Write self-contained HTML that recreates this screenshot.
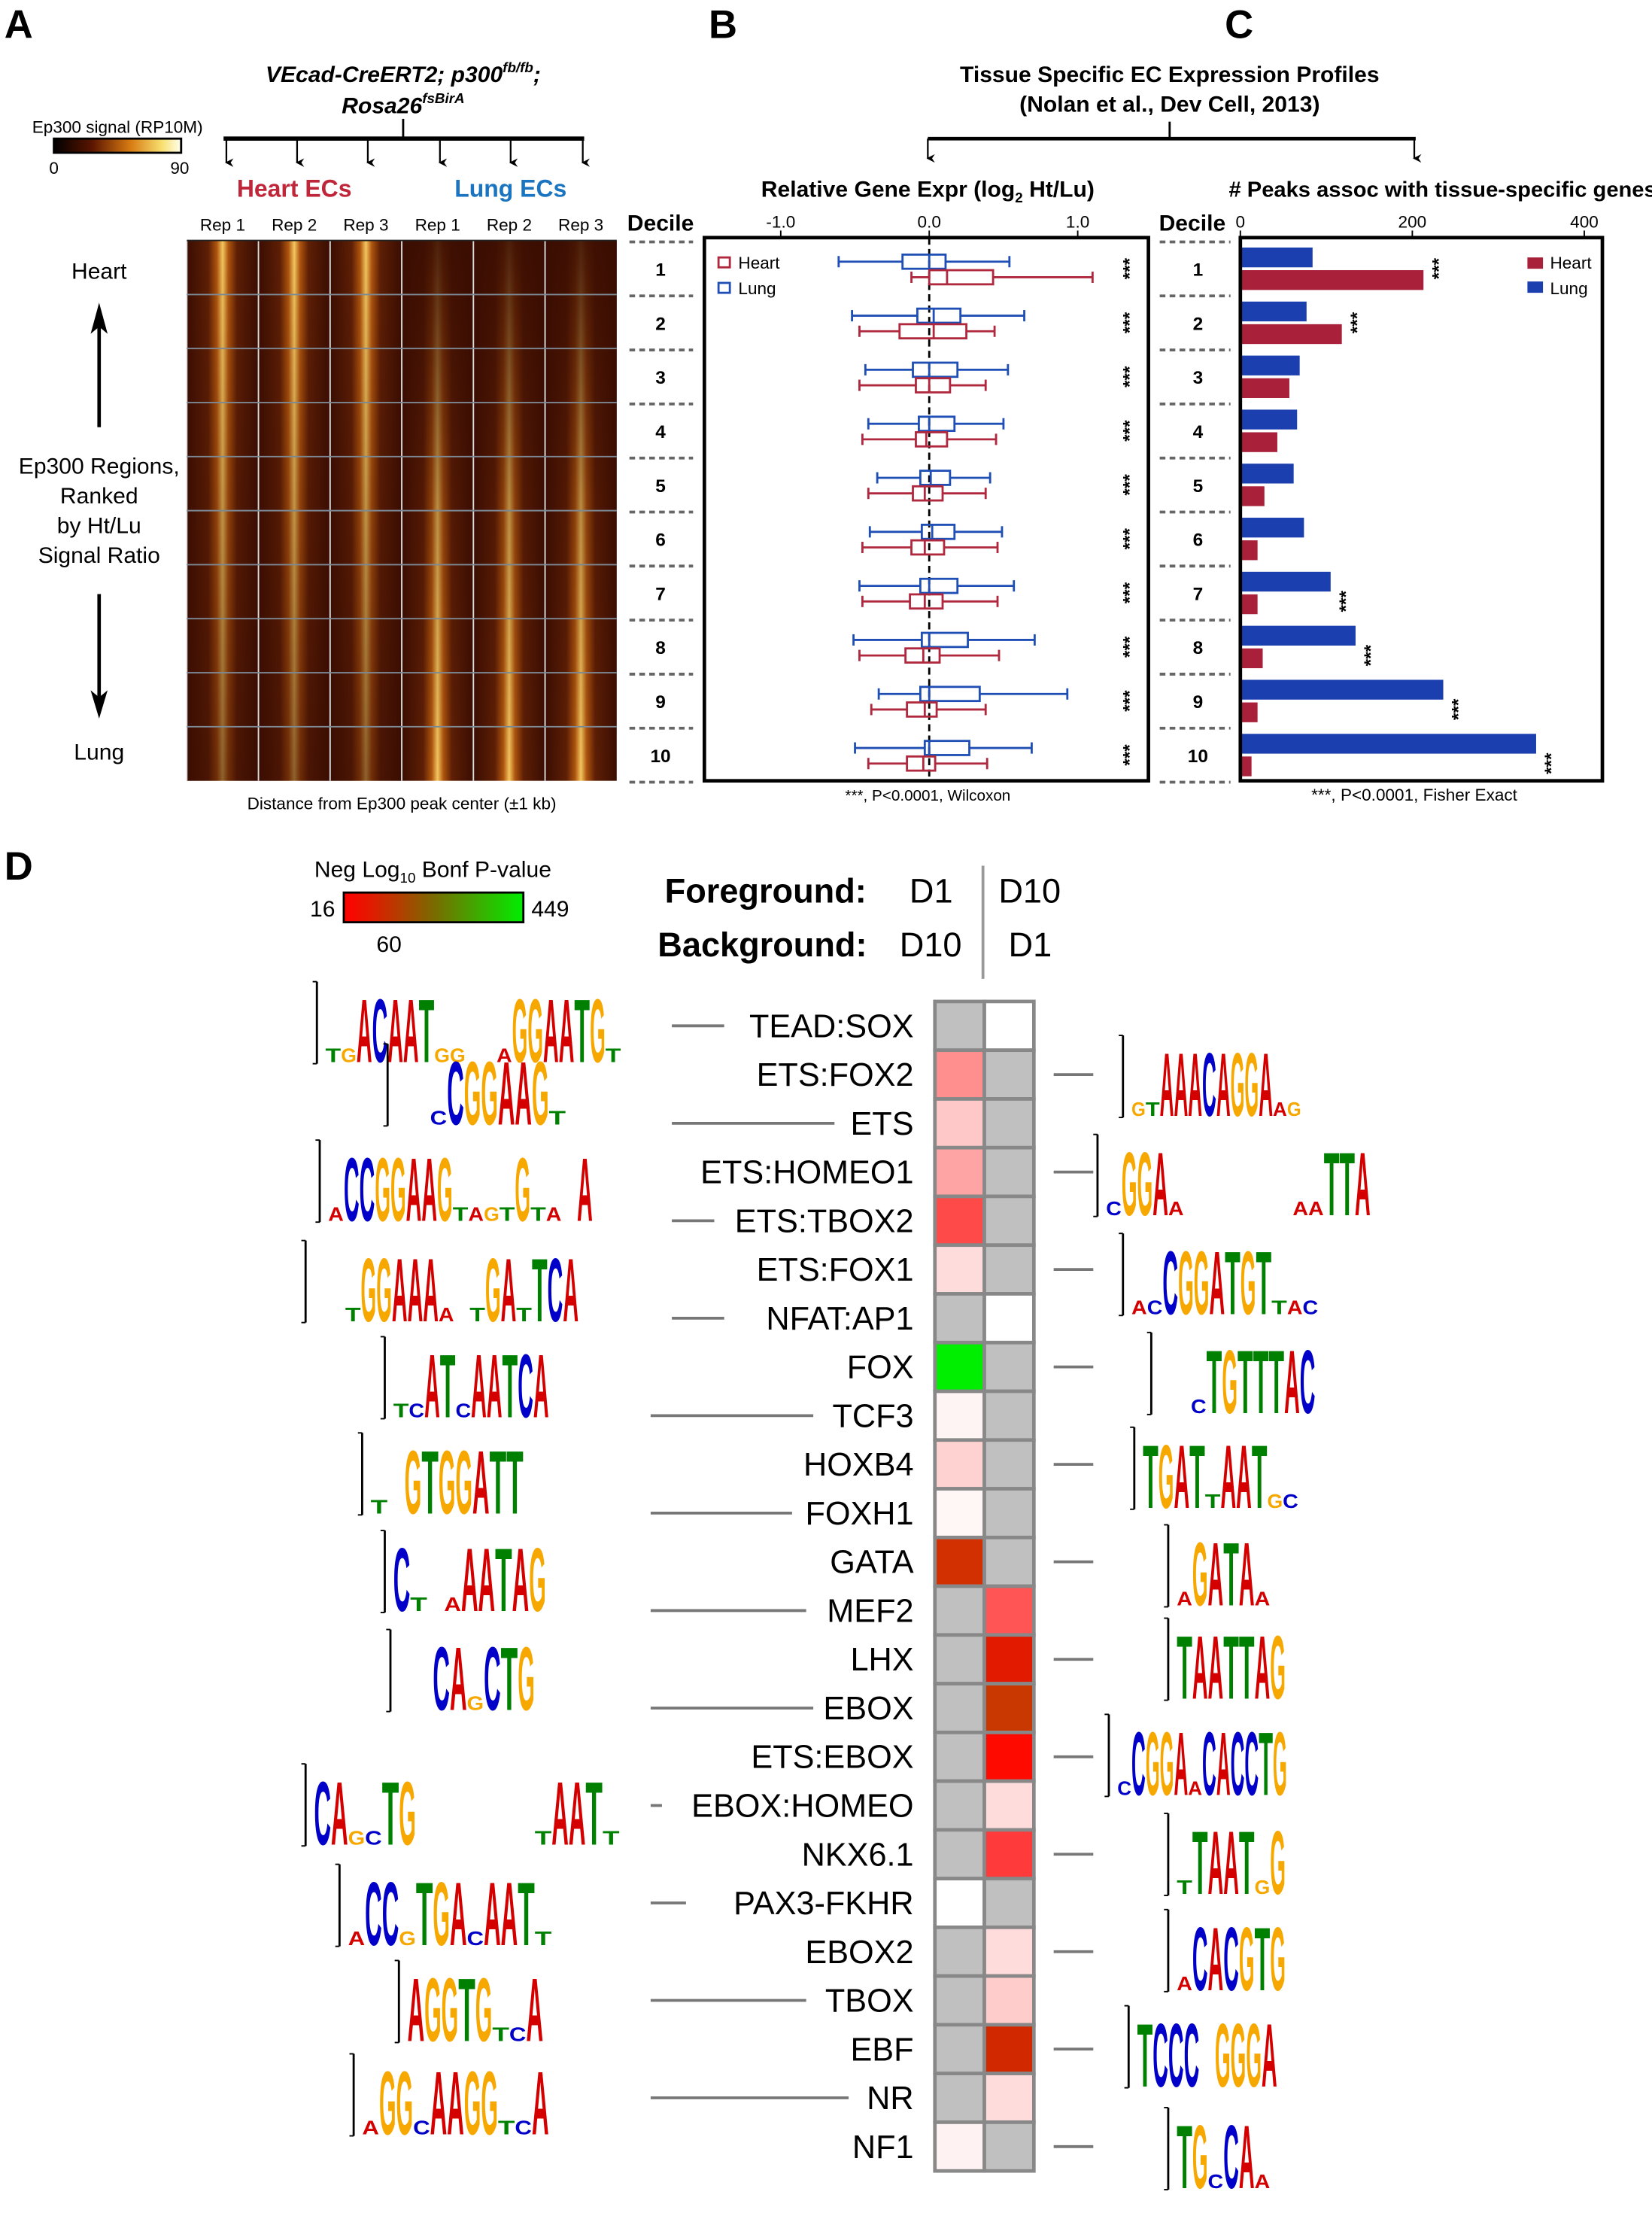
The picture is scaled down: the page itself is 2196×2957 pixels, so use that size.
<!DOCTYPE html>
<html><head><meta charset="utf-8"><style>
html,body{margin:0;padding:0;background:#fff}
svg{display:block;font-family:"Liberation Sans",Arial,sans-serif}
</style></head><body>
<svg id="fig" width="2196" height="2957" viewBox="0 0 1168 1573" xmlns="http://www.w3.org/2000/svg">
<defs>
<linearGradient id="cbar" x1="0" x2="1"><stop offset="0" stop-color="#000"/><stop offset="0.3" stop-color="#5a1500"/><stop offset="0.6" stop-color="#d77a12"/><stop offset="0.85" stop-color="#f8e070"/><stop offset="1" stop-color="#fffff0"/></linearGradient>
<linearGradient id="stripe" x1="0" x2="1"><stop offset="0" stop-color="#3a0d02"/><stop offset="0.3" stop-color="#5e1f05"/><stop offset="0.42" stop-color="#b0560e"/><stop offset="0.5" stop-color="#f5c860"/><stop offset="0.58" stop-color="#b0560e"/><stop offset="0.7" stop-color="#5e1f05"/><stop offset="1" stop-color="#3a0d02"/></linearGradient>
<linearGradient id="fadeDown" x1="0" y1="0" x2="0" y2="1"><stop offset="0" stop-color="#3a0d02" stop-opacity="0"/><stop offset="1" stop-color="#3a0d02" stop-opacity="0.55"/></linearGradient>
<linearGradient id="fadeUp" x1="0" y1="0" x2="0" y2="1"><stop offset="0" stop-color="#3a0d02" stop-opacity="0.9"/><stop offset="0.5" stop-color="#3a0d02" stop-opacity="0.3"/><stop offset="1" stop-color="#3a0d02" stop-opacity="0"/></linearGradient>
<linearGradient id="pbar" x1="0" x2="1"><stop offset="0" stop-color="#ff0000"/><stop offset="0.15" stop-color="#e21a00"/><stop offset="0.5" stop-color="#7a6a00"/><stop offset="1" stop-color="#00ee00"/></linearGradient>
<marker id="ah" markerWidth="6" markerHeight="6" refX="3" refY="5" orient="auto-start-reverse" markerUnits="userSpaceOnUse" viewBox="0 0 6 6"><path d="M0,0 L3,6 L6,0 L3,2z" fill="#000"/></marker>
</defs>

<text x="3" y="27" font-size="28" font-weight="bold">A</text>
<text x="501" y="27" font-size="28" font-weight="bold">B</text>
<text x="866" y="27" font-size="28" font-weight="bold">C</text>
<text x="3" y="622" font-size="28" font-weight="bold">D</text>

<g font-weight="bold" font-style="italic" font-size="16" text-anchor="middle">
<text x="285" y="58">VEcad-CreERT2; p300<tspan font-size="10" dy="-7">fb/fb</tspan><tspan dy="7">;</tspan></text>
<text x="285" y="80">Rosa26<tspan font-size="10" dy="-7">fsBirA</tspan></text>
</g>
<text x="83" y="94" font-size="12" text-anchor="middle">Ep300 signal (RP10M)</text>
<rect x="38" y="98" width="90" height="10" fill="url(#cbar)" stroke="#000" stroke-width="1.5"/>
<text x="38" y="123" font-size="12" text-anchor="middle">0</text>
<text x="127" y="123" font-size="12" text-anchor="middle">90</text>
<g stroke="#000" fill="none">
<line x1="158" y1="98" x2="413" y2="98" stroke-width="3"/>
<line x1="285" y1="84" x2="285" y2="98" stroke-width="1.5"/>
<g stroke-width="1.2" marker-end="url(#ah)">
<line x1="160" y1="98" x2="160" y2="115"/><line x1="210" y1="98" x2="210" y2="115"/><line x1="260" y1="98" x2="260" y2="115"/><line x1="311" y1="98" x2="311" y2="115"/><line x1="361" y1="98" x2="361" y2="115"/><line x1="412" y1="98" x2="412" y2="115"/>
</g></g>
<text x="208" y="139" font-size="17" font-weight="bold" fill="#c0263a" text-anchor="middle">Heart ECs</text>
<text x="361" y="139" font-size="17" font-weight="bold" fill="#1a74c0" text-anchor="middle">Lung ECs</text>
<g id="heatA"></g>
<text x="284" y="572" font-size="12" text-anchor="middle">Distance from Ep300 peak center (±1 kb)</text>
<text x="70" y="197" font-size="16" text-anchor="middle">Heart</text>
<g><line x1="70" y1="302" x2="70" y2="230" stroke="#000" stroke-width="2.5"/><path d="M64,236 L70,214 L76,236 L70,231z" fill="#000"/></g>
<g font-size="16" text-anchor="middle">
<text x="70" y="335">Ep300 Regions,</text><text x="70" y="356">Ranked</text><text x="70" y="377">by Ht/Lu</text><text x="70" y="398">Signal Ratio</text></g>
<g><line x1="70" y1="420" x2="70" y2="495" stroke="#000" stroke-width="2.5"/><path d="M64,488 L70,508 L76,488 L70,493z" fill="#000"/></g>
<text x="70" y="537" font-size="16" text-anchor="middle">Lung</text>

<g font-size="16" font-weight="bold" text-anchor="middle">
<text x="827" y="58">Tissue Specific EC Expression Profiles</text>
<text x="827" y="79">(Nolan et al., Dev Cell, 2013)</text></g>
<g stroke="#000" fill="none">
<line x1="656" y1="98" x2="1001" y2="98" stroke-width="2.5"/>
<line x1="827" y1="86" x2="827" y2="98" stroke-width="1.5"/>
<line x1="656" y1="98" x2="656" y2="112" stroke-width="1.2" marker-end="url(#ah)"/>
<line x1="1000" y1="98" x2="1000" y2="112" stroke-width="1.2" marker-end="url(#ah)"/></g>
<text x="656" y="139" font-size="16" font-weight="bold" text-anchor="middle">Relative Gene Expr (log<tspan font-size="10" dy="4">2</tspan><tspan dy="-4"> Ht/Lu)</tspan></text>
<text x="1020" y="139" font-size="15.5" font-weight="bold" text-anchor="middle"># Peaks assoc with tissue-specific genes</text>
<text x="467" y="163" font-size="16" font-weight="bold" text-anchor="middle">Decile</text>
<text x="843" y="163" font-size="16" font-weight="bold" text-anchor="middle">Decile</text>
<g id="panelB"></g>
<g id="panelC"></g>
<text x="656" y="566" font-size="11" text-anchor="middle">***, P&lt;0.0001, Wilcoxon</text>
<text x="1000" y="566" font-size="12" text-anchor="middle">***, P&lt;0.0001, Fisher Exact</text>

<text x="306" y="620" font-size="16" text-anchor="middle">Neg Log<tspan font-size="10" dy="4">10</tspan><tspan dy="-4"> Bonf P-value</tspan></text>
<rect x="243" y="631" width="127" height="21" fill="url(#pbar)" stroke="#000" stroke-width="1.5"/>
<text x="228" y="648" font-size="16" text-anchor="middle">16</text>
<text x="389" y="648" font-size="16" text-anchor="middle">449</text>
<text x="275" y="673" font-size="16" text-anchor="middle">60</text>
<g font-size="24" font-weight="bold">
<text x="470" y="638">Foreground:</text><text x="643" y="638" font-weight="normal">D1</text><text x="706" y="638" font-weight="normal">D10</text>
<text x="465" y="676">Background:</text><text x="636" y="676" font-weight="normal">D10</text><text x="713" y="676" font-weight="normal">D1</text></g>
<line x1="695" y1="612" x2="695" y2="692" stroke="#999" stroke-width="2"/>
<g id="panelD"></g>
<g id="logos"></g>
</svg>
<script>
const NS="http://www.w3.org/2000/svg";
function mk(tag,attrs,parent,txt){const e=document.createElementNS(NS,tag);for(const k in attrs)e.setAttribute(k,attrs[k]);if(txt!==undefined)e.textContent=txt;parent.appendChild(e);return e;}

const reps=["Rep 1","Rep 2","Rep 3","Rep 1","Rep 2","Rep 3"];
const repTissue=["heart","heart","heart","lung","lung","lung"];
(function(){
 const g=document.getElementById('heatA');const x0=132,y0=170,W=304,H=382,cw=W/6;
 reps.forEach((r,i)=>{const x=x0+i*cw;
  const t=mk('text',{x:x+cw/2,y:163,'font-size':12,'text-anchor':'middle'},g,r);
  
  
  const c=mk('rect',{x:x,y:y0,width:cw,height:H,fill:'url(#stripe)'},g);
  
  
  mk('rect',{x:x,y:y0,width:cw,height:H,fill:repTissue[i]==='heart'?'url(#fadeDown)':'url(#fadeUp)'},g);
  mk('line',{x1:x,y1:y0,x2:x,y2:y0+H,stroke:'#ddd','stroke-width':1},g);
 });
 for(let k=1;k<10;k++){const y=y0+k*H/10;mk('line',{x1:x0,y1:y,x2:x0+W,y2:y,stroke:'#7d8a96','stroke-width':1},g);}
 mk('line',{x1:x0,y1:y0,x2:x0+W,y2:y0,stroke:'#222','stroke-width':1},g);
})();

const deciles=[1,2,3,4,5,6,7,8,9,10];
const lungMin=[-0.61,-0.52,-0.43,-0.41,-0.35,-0.40,-0.47,-0.51,-0.34,-0.50];
const lungQ1=[-0.18,-0.08,-0.11,-0.07,-0.06,-0.05,-0.06,-0.05,-0.06,-0.03];
const lungMed=[0.0,0.03,0.0,0.0,0.01,0.02,0.0,0.0,0.0,0.0];
const lungQ3=[0.11,0.21,0.19,0.17,0.14,0.17,0.19,0.26,0.34,0.27];
const lungMax=[0.54,0.64,0.53,0.50,0.41,0.49,0.57,0.71,0.93,0.69];
const heartMin=[-0.12,-0.47,-0.47,-0.45,-0.41,-0.45,-0.45,-0.47,-0.39,-0.41];
const heartQ1=[0.0,-0.20,-0.09,-0.09,-0.11,-0.12,-0.13,-0.16,-0.15,-0.15];
const heartMed=[0.12,0.03,0.0,-0.02,-0.03,-0.03,-0.03,-0.04,-0.03,-0.04];
const heartQ3=[0.43,0.25,0.14,0.12,0.09,0.10,0.09,0.07,0.05,0.04];
const heartMax=[1.10,0.44,0.38,0.45,0.38,0.46,0.46,0.47,0.38,0.39];
const bTicks=[-1.0,0.0,1.0];
const bTickLabels=["-1.0","0.0","1.0"];
const xB=v=>657+v*105;
const rowY=d=>190+(d-1)*38.2;
(function(){
 const g=document.getElementById('panelB');
 const fr=mk('rect',{x:498,y:168,width:314,height:384,fill:'none',stroke:'#000','stroke-width':2.5},g);
 
 
 bTicks.forEach((t,i)=>{mk('line',{x1:xB(t),y1:168,x2:xB(t),y2:163,stroke:'#000'},g);
  const l=mk('text',{x:xB(t),y:161,'font-size':12,'text-anchor':'middle'},g,bTickLabels[i]);
  
  });
 mk('line',{x1:xB(0),y1:168,x2:xB(0),y2:552,stroke:'#000','stroke-width':1.5,'stroke-dasharray':'5,3'},g);
 function box(y,mn,q1,md,q3,mx,col,name){
  const gg=mk('g',{stroke:col,'stroke-width':1.5,fill:'none'},g);
  
  
  mk('line',{x1:xB(mn),y1:y,x2:xB(q1),y2:y},gg);mk('line',{x1:xB(q3),y1:y,x2:xB(mx),y2:y},gg);
  mk('line',{x1:xB(mn),y1:y-4,x2:xB(mn),y2:y+4},gg);mk('line',{x1:xB(mx),y1:y-4,x2:xB(mx),y2:y+4},gg);
  mk('rect',{x:xB(q1),y:y-5,width:xB(q3)-xB(q1),height:10},gg);
  mk('line',{x1:xB(md),y1:y-5,x2:xB(md),y2:y+5},gg);
 }
 deciles.forEach((d,i)=>{const y=rowY(d);
  box(y-5,lungMin[i],lungQ1[i],lungMed[i],lungQ3[i],lungMax[i],'#1f4fb5','lung-box');
  box(y+6,heartMin[i],heartQ1[i],heartMed[i],heartQ3[i],heartMax[i],'#b0283e','heart-box');
  const s=mk('text',{x:0,y:0,'font-size':13,'font-weight':'bold','text-anchor':'middle',transform:`translate(803,${y}) rotate(-90)`},g,'***');
  
  
  const dl=mk('text',{x:467,y:y+5,'font-size':13,'font-weight':'bold','text-anchor':'middle'},g,String(d));
  
  
  const dl2=mk('text',{x:847,y:y+5,'font-size':13,'font-weight':'bold','text-anchor':'middle'},g,String(d));
  
  
 });
 for(let k=0;k<=10;k++){const y=171+k*38.2;
  mk('line',{x1:445,y1:y,x2:490,y2:y,stroke:'#666','stroke-width':2,'stroke-dasharray':'4,3'},g);
  mk('line',{x1:820,y1:y,x2:870,y2:y,stroke:'#666','stroke-width':2,'stroke-dasharray':'4,3'},g);}
 const lg=mk('g',{'font-size':12},g);
 
 
 mk('rect',{x:508,y:182,width:8,height:7,fill:'none',stroke:'#b0283e','stroke-width':1.5},lg);
 mk('text',{x:522,y:190},lg,'Heart');
 mk('rect',{x:508,y:200,width:8,height:7,fill:'none',stroke:'#1f4fb5','stroke-width':1.5},lg);
 mk('text',{x:522,y:208},lg,'Lung');
})();

const lungPeaks=[84,77,69,66,62,74,105,134,236,344];
const heartPeaks=[213,118,57,43,28,20,20,26,20,13];
const lungSig=[false,false,false,false,false,false,true,true,true,true];
const heartSig=[true,true,false,false,false,false,false,false,false,false];
const cTicks=[0,200,400];
const xC=v=>877+v*0.608;
(function(){
 const g=document.getElementById('panelC');
 cTicks.forEach(t=>{mk('line',{x1:xC(t),y1:168,x2:xC(t),y2:163,stroke:'#000'},g);
  const l=mk('text',{x:xC(t),y:161,'font-size':12,'text-anchor':'middle'},g,String(t));
  
  });
 deciles.forEach((d,i)=>{const y=rowY(d);
  const b1=mk('rect',{x:xC(0),y:y-15,width:xC(lungPeaks[i])-xC(0),height:14,fill:'#1c3fb0'},g);
  
  
  const b2=mk('rect',{x:xC(0),y:y+1,width:xC(heartPeaks[i])-xC(0),height:14,fill:'#a8203a'},g);
  
  
  if(lungSig[i]){const s=mk('text',{'font-size':13,'font-weight':'bold','text-anchor':'middle',transform:`translate(${xC(lungPeaks[i])+15},${y+6}) rotate(-90)`},g,'***');
   
   }
  if(heartSig[i]){const s=mk('text',{'font-size':13,'font-weight':'bold','text-anchor':'middle',transform:`translate(${xC(heartPeaks[i])+15},${y}) rotate(-90)`},g,'***');
   
   }
 });
 const fr=mk('rect',{x:877,y:168,width:256,height:384,fill:'none',stroke:'#000','stroke-width':2.5},g);
 
 
 const lg=mk('g',{'font-size':12},g);
 
 
 mk('rect',{x:1080,y:182,width:11,height:8,fill:'#a8203a'},lg);mk('text',{x:1096,y:190},lg,'Heart');
 mk('rect',{x:1080,y:199,width:11,height:8,fill:'#1c3fb0'},lg);mk('text',{x:1096,y:208},lg,'Lung');
})();

const motifs=["TEAD:SOX","ETS:FOX2","ETS","ETS:HOMEO1","ETS:TBOX2","ETS:FOX1","NFAT:AP1","FOX","TCF3","HOXB4","FOXH1","GATA","MEF2","LHX","EBOX","ETS:EBOX","EBOX:HOMEO","NKX6.1","PAX3-FKHR","EBOX2","TBOX","EBF","NR","NF1"];
const colD1=["#c0c0c0","#ff8f8f","#ffc8c8","#ffa4a4","#ff4a4a","#ffdcdc","#c0c0c0","#00ee00","#fff4f4","#ffd2d2","#fff6f6","#d23000","#c0c0c0","#c0c0c0","#c0c0c0","#c0c0c0","#c0c0c0","#c0c0c0","#ffffff","#c0c0c0","#c0c0c0","#c0c0c0","#c0c0c0","#fff2f2"];
const colD10=["#ffffff","#c0c0c0","#c0c0c0","#c0c0c0","#c0c0c0","#c0c0c0","#ffffff","#c0c0c0","#c0c0c0","#c0c0c0","#c0c0c0","#c0c0c0","#ff5555","#e21a00","#c83800","#ff0a00","#ffdcdc","#ff3a3a","#c0c0c0","#ffdcdc","#ffcccc","#d22800","#ffdcdc","#c0c0c0"];
const leftLine=[[475,512],null,[475,590],null,[475,505],null,[475,512],null,[460,575],null,[460,560],null,[460,570],null,[460,575],null,[460,468],null,[460,485],null,[460,570],null,[460,600],null];
const rightLine=[false,true,false,true,false,true,false,true,false,true,false,true,false,true,false,true,false,true,false,true,false,true,false,true];
(function(){
 const g=document.getElementById('panelD');const y0=708,rh=34.45,x0=661,cw=35;
 motifs.forEach((m,i)=>{const y=y0+i*rh;
  const c1=mk('rect',{x:x0,y:y,width:cw,height:rh,fill:colD1[i],stroke:'#888','stroke-width':2.5},g);
  
  
  const c2=mk('rect',{x:x0+cw,y:y,width:cw,height:rh,fill:colD10[i],stroke:'#888','stroke-width':2.5},g);
  
  
  const t=mk('text',{x:646,y:y+rh/2+8,'font-size':23,'text-anchor':'end'},g,m);
  
  
  if(leftLine[i]){mk('line',{x1:leftLine[i][0],y1:y+rh/2,x2:leftLine[i][1],y2:y+rh/2,stroke:'#777','stroke-width':2},g);}
  if(rightLine[i]){mk('line',{x1:745,y1:y+rh/2,x2:773,y2:y+rh/2,stroke:'#777','stroke-width':2},g);}
 });
})();

const logoCol={A:'#d40000',C:'#0000c8',G:'#f7a800',T:'#008000'};
const logos=[
 [230,752,11,"tgACAATgg..aGGAATGt"],[280,796,12,"..cCGGAAGt"],[232,864,11,"aCCGGAAGtagtGta.A"],[222,935,11,"..tGGAAAa.tGAtTCA"],
 [278,1003,11,"tcATcAATCA"],[262,1071,12,"t.GTGGATT"],[278,1140,12,"Ct.aAATAG"],[282,1210,12,"..CAgCTG"],
 [222,1305,12,"CAgcTG.......tAATt"],[246,1376,12,"aCCgTGAcAATt"],[288,1444,12,"AGGTGtcA"],[256,1510,12,"aGGcAAGGtcA"],
 [800,790,10,"gtAAACAGGAag"],[782,860,11,"cGGAa.......aaTTA"],[800,930,11,"acCGGATGTtac"],[820,1000,11,"..cTGTTTAC"],
 [808,1067,11,"TGATtAATgc"],[832,1136,11,"aGATAa"],[832,1202,11,"TAATTAG"],[790,1270,10,"cCGGAaCACCTG"],
 [832,1340,11,"tTAATgG"],[832,1408,11,"aCACGTG"],[804,1476,11,"TCCC.GGGA"],[832,1548,11,"TGcCAa"]
];
(function(){
 const g=document.getElementById('logos');
 logos.forEach(([x0,base,w,seq])=>{
  const lg=mk('g',{},g);
  
  
  mk('line',{x1:x0-6,y1:base-58,x2:x0-6,y2:base,stroke:'#000','stroke-width':1.5},lg);
  mk('line',{x1:x0-9,y1:base-58,x2:x0-6,y2:base-58,stroke:'#000'},lg);
  mk('line',{x1:x0-9,y1:base,x2:x0-6,y2:base,stroke:'#000'},lg);
  [...seq].forEach((ch,k)=>{
   if(ch==='.')return;
   const up=ch===ch.toUpperCase();const L=ch.toUpperCase();
   const h=up?46:10;
   mk('text',{x:x0+k*w,y:base-1,'font-size':h/0.72,'font-weight':'bold',fill:logoCol[L],textLength:w,lengthAdjust:'spacingAndGlyphs'},lg,L);
  });
 });
})();
</script>
</body></html>
